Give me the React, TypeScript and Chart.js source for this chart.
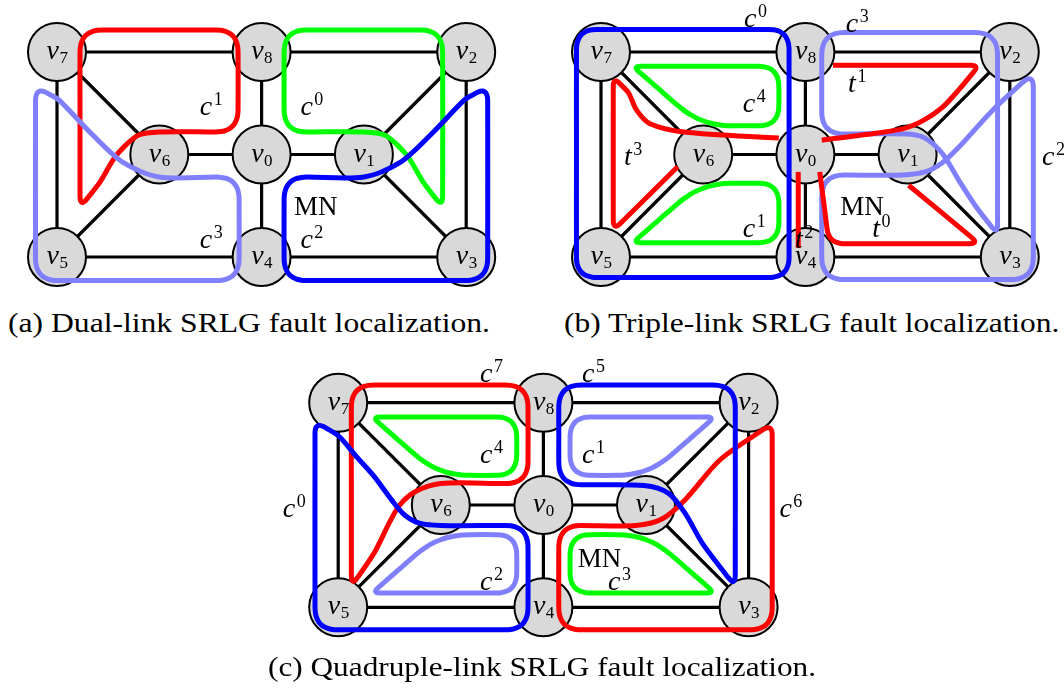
import React, { useEffect, useRef } from "react";
import { Chart, registerables } from "chart.js";

Chart.register(...registerables);

// A vertex of a cycle outline: [column, row, corner radius] in grid units.
type Vertex = [number, number, number?];

// Network nodes v0..v8 on a 5 x 3 grid (column, row).
const NODE_COL = [2, 3, 4, 4, 2, 0, 1, 0, 2];
const NODE_ROW = [1, 1, 0, 2, 2, 2, 1, 0, 0];

// Links of the topology (node index pairs).
const LINKS: [number, number][] = [
  [7, 8], [8, 2], [7, 5], [2, 3], [5, 4], [4, 3], [8, 0],
  [0, 4], [6, 0], [0, 1], [7, 6], [6, 5], [2, 1], [1, 3],
];

const RED = "#ff0000";
const GREEN = "#00ff00";
const BLUE = "#0000ff";
const LIGHT = "#8080ff";

// ---- (a) dual-link SRLG: cycles c0..c3 ----
const aC0: Vertex[] = [[2.22, -0.215, 0.22], [3.77, -0.215, 0.22], [3.77, 1.52, 0.12], [3.58, 1.27], [3.45, 1.05], [3.35, 0.93], [3.2, 0.81], [3.0, 0.78], [2.22, 0.78, 0.22]];
const aC1: Vertex[] = [[0.225, -0.215, 0.22], [1.77, -0.215, 0.22], [1.77, 0.78, 0.22], [1.0, 0.78], [0.8, 0.81], [0.65, 0.93], [0.55, 1.05], [0.42, 1.27], [0.225, 1.52, 0.12]];
const aC2: Vertex[] = [[2.22, 2.23, 0.22], [2.22, 1.22, 0.22], [3.0, 1.22], [3.35, 1.08], [3.67, 0.79], [3.98, 0.47], [4.21, 0.33, 0.15], [4.21, 2.23, 0.22]];
const aC3: Vertex[] = [[1.78, 2.23, 0.22], [1.78, 1.22, 0.22], [1.0, 1.22], [0.65, 1.08], [0.33, 0.79], [0.02, 0.47], [-0.21, 0.33, 0.15], [-0.21, 2.23, 0.22]];

// ---- (b) triple-link SRLG: cycles c0..c4 and trails t0..t3 ----
const bC0: Vertex[] = [[-0.24, -0.22, 0.2], [1.84, -0.22, 0.2], [1.84, 2.2, 0.2], [-0.24, 2.2, 0.2]];
const bC1: Vertex[] = [[0.31, 1.86, 0.08], [1.74, 1.86, 0.2], [1.74, 1.28, 0.2], [0.98, 1.28, 0.3]];
const bC2: Vertex[] = [[2.16, 2.22, 0.22], [2.16, 1.2, 0.22], [2.95, 1.2], [3.17, 1.17], [3.34, 1.08], [3.5, 0.93], [3.83, 0.57], [4.23, 0.2, 0.15], [4.23, 2.22, 0.22]];
const bC3: Vertex[] = [[2.16, -0.19, 0.22], [3.88, -0.19, 0.22], [3.88, 1.78, 0.1], [3.67, 1.51], [3.5, 1.25], [3.34, 0.99], [3.17, 0.84], [3.0, 0.8], [2.16, 0.8, 0.22]];
const bC4: Vertex[] = [[0.31, 0.14, 0.08], [1.74, 0.14, 0.2], [1.74, 0.72, 0.2], [0.98, 0.72, 0.3]];
const bT0: Vertex[] = [[2.14, 1.17], [2.19, 1.55], [2.23, 1.87, 0.15], [3.7, 1.87, 0.1], [3.01, 1.3]];
const bT1: Vertex[] = [[2.16, 0.86], [2.55, 0.81], [2.95, 0.75], [3.15, 0.67], [3.34, 0.54], [3.5, 0.37], [3.7, 0.13, 0.08], [2.27, 0.13]];
const bT2: Vertex[] = [[1.93, 1.17], [1.93, 1.91]];
const bT3: Vertex[] = [[1.74, 0.84], [0.81, 0.78], [0.48, 0.7], [0.35, 0.57], [0.27, 0.4], [0.12, 0.24, 0.1], [0.12, 1.74, 0.1], [0.75, 1.12]];

// ---- (c) quadruple-link SRLG: cycles c0..c7 ----
const cC0: Vertex[] = [[-0.226, 2.22, 0.22], [-0.226, 0.18, 0.12], [0.01, 0.33], [0.18, 0.53], [0.35, 0.72], [0.52, 0.95], [0.65, 1.1], [0.8, 1.18], [1.0, 1.2], [1.85, 1.2, 0.22], [1.85, 2.22, 0.22]];
const cC1: Vertex[] = [[3.67, 0.14, 0.08], [2.26, 0.14, 0.2], [2.26, 0.71, 0.2], [3.02, 0.71, 0.3]];
const cC2: Vertex[] = [[0.33, 1.86, 0.08], [1.74, 1.86, 0.2], [1.74, 1.29, 0.2], [0.98, 1.29, 0.3]];
const cC3: Vertex[] = [[3.67, 1.86, 0.08], [2.26, 1.86, 0.2], [2.26, 1.29, 0.2], [3.02, 1.29, 0.3]];
const cC4: Vertex[] = [[0.33, 0.14, 0.08], [1.74, 0.14, 0.2], [1.74, 0.71, 0.2], [0.98, 0.71, 0.3]];
const cC5: Vertex[] = [[2.15, -0.173, 0.22], [3.87, -0.173, 0.22], [3.87, 1.8, 0.12], [3.55, 1.375], [3.38, 1.08], [3.22, 0.886], [2.98, 0.81], [2.15, 0.8, 0.22]];
const cC6: Vertex[] = [[2.15, 2.22, 0.22], [2.15, 1.2, 0.22], [2.9, 1.2], [3.15, 1.14], [3.38, 0.95], [3.72, 0.56], [4.23, 0.2, 0.12], [4.23, 2.22, 0.22]];
const cC7: Vertex[] = [[0.128, -0.173, 0.22], [1.85, -0.173, 0.22], [1.85, 0.79, 0.22], [1.0, 0.79], [0.75, 0.87], [0.6, 1.0], [0.5, 1.17], [0.35, 1.47], [0.128, 1.8, 0.12]];

// Text marks: [base, superscript, column, baseline row]
type Mark = [string, string, number, number];
const aMarks: Mark[] = [["c", "1", 1.456, 0.615], ["c", "0", 2.44, 0.615], ["c", "3", 1.456, 1.914], ["c", "2", 2.44, 1.914], ["MN", "", 2.53, 1.59]];
const bMarks: Mark[] = [
  ["c", "0", 1.461, -0.247], ["c", "3", 2.456, -0.198], ["t", "1", 2.456, 0.387], ["c", "4", 1.448, 0.582],
  ["t", "3", 0.263, 1.102], ["c", "2", 4.376, 1.102], ["MN", "", 2.554, 1.59], ["t", "0", 2.692, 1.8],
  ["c", "1", 1.448, 1.808], ["t", "2", 1.937, 1.915],
];
const cMarks: Mark[] = [
  ["c", "7", 1.443, -0.205], ["c", "5", 2.438, -0.205], ["c", "4", 1.443, 0.593], ["c", "1", 2.438, 0.593],
  ["c", "0", -0.479, 1.114], ["c", "6", 4.361, 1.114], ["MN", "", 2.546, 1.603], ["c", "3", 2.691, 1.831],
  ["c", "2", 1.443, 1.831],
];

const CAPTIONS = [
  "(a) Dual-link SRLG fault localization.",
  "(b) Triple-link SRLG fault localization.",
  "(c) Quadruple-link SRLG fault localization.",
];

type Path = { pts: Vertex[]; color: string; closed: boolean };

interface PanelSpec {
  box: { l: number; t: number; w: number; h: number };
  origin: [number, number];
  step: [number, number];
  paths: Path[];
  marks: Mark[];
}

const PANELS: PanelSpec[] = [
  {
    box: { l: 0, t: 0, w: 532, h: 300 },
    origin: [57, 52],
    step: [102.3, 102.5],
    paths: [
      { pts: aC3, color: LIGHT, closed: true },
      { pts: aC2, color: BLUE, closed: true },
      { pts: aC1, color: RED, closed: true },
      { pts: aC0, color: GREEN, closed: true },
    ],
    marks: aMarks,
  },
  {
    box: { l: 532, t: 0, w: 532, h: 300 },
    origin: [601, 52],
    step: [102.2, 102.5],
    paths: [
      { pts: bC0, color: BLUE, closed: true },
      { pts: bC4, color: GREEN, closed: true },
      { pts: bC1, color: GREEN, closed: true },
      { pts: bT3, color: RED, closed: false },
      { pts: bT1, color: RED, closed: false },
      { pts: bT0, color: RED, closed: false },
      { pts: bT2, color: RED, closed: false },
      { pts: bC3, color: LIGHT, closed: true },
      { pts: bC2, color: LIGHT, closed: true },
    ],
    marks: bMarks,
  },
  {
    box: { l: 260, t: 340, w: 560, h: 320 },
    origin: [338.2, 402.7],
    step: [102.6, 102.3],
    paths: [
      { pts: cC0, color: BLUE, closed: true },
      { pts: cC5, color: BLUE, closed: true },
      { pts: cC7, color: RED, closed: true },
      { pts: cC6, color: RED, closed: true },
      { pts: cC4, color: GREEN, closed: true },
      { pts: cC3, color: GREEN, closed: true },
      { pts: cC1, color: LIGHT, closed: true },
      { pts: cC2, color: LIGHT, closed: true },
    ],
    marks: cMarks,
  },
];

// Replace each vertex that has a corner radius by a short bend (quadratic curve
// from the point r before the corner to the point r after it), so the outline
// has rounded corners; plain vertices are passed through the spline as they are.
const BEND_STEPS = 8;
function outline(vs: Vertex[], closed: boolean) {
  const out: { x: number; y: number }[] = [];
  const n = vs.length;
  for (let i = 0; i < n; i++) {
    const [x, y, r = 0] = vs[i];
    const hasPrev = closed || i > 0;
    const hasNext = closed || i < n - 1;
    if (!r || !hasPrev || !hasNext) {
      out.push({ x, y });
      continue;
    }
    const p = vs[(i - 1 + n) % n];
    const q = vs[(i + 1) % n];
    const ax = x - p[0], ay = y - p[1];
    const al = Math.hypot(ax, ay);
    const bx = q[0] - x, by = q[1] - y;
    const bl = Math.hypot(bx, by);
    const sx = x - (r * ax) / al, sy = y - (r * ay) / al;
    const ex = x + (r * bx) / bl, ey = y + (r * by) / bl;
    for (let k = 0; k <= BEND_STEPS; k++) {
      const t = k / BEND_STEPS;
      const u = 1 - t;
      out.push({ x: u * u * sx + 2 * u * t * x + t * t * ex, y: u * u * sy + 2 * u * t * y + t * t * ey });
    }
  }
  if (closed) {
    const a = out[out.length - 1];
    const b = out[0];
    const m = { x: (a.x + b.x) / 2, y: (a.y + b.y) / 2 };
    return [m, ...out, m];
  }
  return out;
}

const SERIF = '"Liberation Serif", "Times New Roman", serif';
const ITALIC = `italic 28px ${SERIF}`;
const ROMAN = `27px ${SERIF}`;
const SCRIPT = `18px ${SERIF}`;
const SUB = `17px ${SERIF}`;

function labelPlugin(marks: Mark[]) {
  return {
    id: "graphLabels",
    afterDatasetsDraw(chart: any) {
      const { ctx } = chart;
      const xs = chart.scales.x;
      const ys = chart.scales.y;
      ctx.save();
      ctx.fillStyle = "#000";
      ctx.textBaseline = "alphabetic";
      ctx.textAlign = "left";
      // node names v_i
      for (let i = 0; i < NODE_COL.length; i++) {
        const px = xs.getPixelForValue(NODE_COL[i]);
        const py = ys.getPixelForValue(NODE_ROW[i]);
        ctx.font = ITALIC;
        const wb = ctx.measureText("v").width;
        ctx.font = SUB;
        const ws = ctx.measureText(String(i)).width;
        const left = px - (wb + ws) / 2;
        ctx.font = ITALIC;
        ctx.fillText("v", left, py + 7);
        ctx.font = SUB;
        ctx.fillText(String(i), left + wb + 0.5, py + 11);
      }
      // cycle / trail names and the monitor node MN
      for (const [base, sup, gx, gy] of marks) {
        const px = xs.getPixelForValue(gx);
        const py = ys.getPixelForValue(gy);
        if (!sup) {
          ctx.font = ROMAN;
          const w = ctx.measureText(base).width;
          ctx.fillText(base, px - w / 2, py);
          continue;
        }
        ctx.font = ITALIC;
        const wb = ctx.measureText(base).width;
        ctx.fillText(base, px - wb / 2, py);
        ctx.font = SCRIPT;
        ctx.fillText(sup, px + wb / 2 + 1.5, py - 10);
      }
      ctx.restore();
    },
  };
}

function Panel({ spec }: { spec: PanelSpec }) {
  const ref = useRef<HTMLCanvasElement>(null);
  useEffect(() => {
    const { box, origin, step, paths, marks } = spec;
    const nodes = NODE_COL.map((c, i) => ({ x: c, y: NODE_ROW[i] }));
    const datasets: any[] = [];
    for (const [a, b] of LINKS) {
      datasets.push({
        data: [nodes[a], nodes[b]],
        showLine: true,
        borderColor: "#000",
        borderWidth: 3.2,
        pointRadius: 0,
        order: 3,
      });
    }
    datasets.push({
      data: nodes,
      showLine: false,
      pointRadius: 29,
      pointBackgroundColor: "#d9d9d9",
      pointBorderColor: "#000",
      pointBorderWidth: 2,
      order: 2,
    });
    for (const p of paths) {
      datasets.push({
        data: outline(p.pts, p.closed),
        showLine: true,
        borderColor: p.color,
        borderWidth: 5,
        pointRadius: 0,
        tension: 0.3,
        borderCapStyle: p.closed ? "round" : "butt",
        borderJoinStyle: "round",
        order: 1,
      });
    }
    const chart = new Chart(ref.current!, {
      type: "scatter",
      data: { datasets },
      options: {
        animation: false,
        responsive: false,
        devicePixelRatio: 1,
        events: [],
        layout: { padding: 0, autoPadding: false },
        plugins: { legend: { display: false }, tooltip: { enabled: false } },
        scales: {
          x: {
            type: "linear",
            display: false,
            min: (box.l - origin[0]) / step[0],
            max: (box.l + box.w - origin[0]) / step[0],
          },
          y: {
            type: "linear",
            display: false,
            reverse: true,
            min: (box.t - origin[1]) / step[1],
            max: (box.t + box.h - origin[1]) / step[1],
          },
        },
      },
      plugins: [labelPlugin(marks)],
    } as any);
    return () => chart.destroy();
  }, [spec]);
  const { box } = spec;
  return (
    <canvas
      ref={ref}
      width={box.w}
      height={box.h}
      style={{ position: "absolute", left: box.l, top: box.t, width: box.w, height: box.h }}
    />
  );
}

// Caption placement: left edge, baseline, rendered width.
const CAPTION_BOX: [number, number, number][] = [
  [8, 333, 482],
  [564, 333, 496],
  [268, 677, 548],
];

function Caption({ text, box }: { text: string; box: [number, number, number] }) {
  const ref = useRef<HTMLDivElement>(null);
  useEffect(() => {
    const el = ref.current!;
    const ctx = document.createElement("canvas").getContext("2d")!;
    ctx.font = ROMAN;
    const w = ctx.measureText(text).width;
    el.style.transform = `scaleX(${box[2] / w})`;
  }, [text, box]);
  return (
    <div
      ref={ref}
      style={{
        position: "absolute",
        left: box[0],
        top: box[1] - 22.6,
        fontFamily: SERIF,
        fontSize: 27,
        lineHeight: "27px",
        whiteSpace: "nowrap",
        transformOrigin: "0 0",
        color: "#000",
      }}
    >
      {text}
    </div>
  );
}

export default function App() {
  return (
    <div style={{ position: "fixed", left: 0, top: 0, width: 1064, height: 694, background: "#fff", overflow: "hidden" }}>
      {PANELS.map((p, i) => (
        <Panel key={i} spec={p} />
      ))}
      {CAPTIONS.map((t, i) => (
        <Caption key={i} text={t} box={CAPTION_BOX[i]} />
      ))}
    </div>
  );
}
